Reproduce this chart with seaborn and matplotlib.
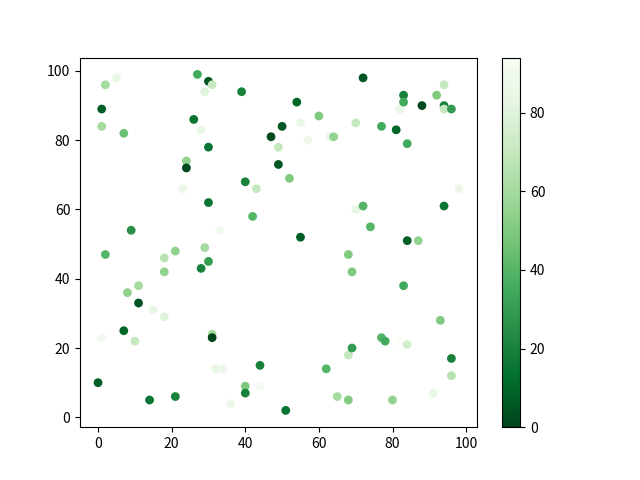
import matplotlib
matplotlib.use("Agg")
import matplotlib.pyplot as plt
import pandas as pd
import seaborn as sns

plt.rcParams['font.family'] = ['Noto Sans CJK SC', 'DejaVu Sans']

# points: x, y, colour value
x = [0, 1, 1, 1, 2, 2, 5, 7, 7, 8,
     9, 10, 11, 11, 14, 15, 18, 18, 18, 21,
     21, 23, 24, 24, 26, 27, 28, 28, 29, 29,
     30, 31, 30, 30, 30, 31, 31, 32, 33, 34,
     36, 39, 40, 40, 40, 42, 43, 44, 44, 47,
     49, 49, 50, 51, 52, 54, 55, 55, 57, 60,
     62, 63, 64, 65, 68, 68, 68, 69, 69, 70,
     70, 72, 72, 74, 77, 77, 78, 80, 81, 82,
     82, 83, 83, 83, 84, 84, 84, 87, 88, 91,
     92, 93, 94, 94, 94, 94, 96, 96, 96, 98]
y = [10, 89, 84, 23, 96, 47, 98, 82, 25, 36,
     54, 22, 38, 33, 5, 31, 46, 42, 29, 48,
     6, 66, 74, 72, 86, 99, 83, 43, 94, 49,
     97, 96, 78, 62, 45, 24, 23, 14, 54, 14,
     4, 94, 68, 9, 7, 58, 66, 15, 9, 81,
     78, 73, 84, 2, 69, 91, 85, 52, 80, 87,
     14, 81, 81, 6, 47, 18, 5, 42, 20, 85,
     60, 98, 61, 55, 84, 23, 22, 5, 83, 89,
     22, 93, 91, 38, 79, 51, 21, 51, 90, 7,
     93, 28, 96, 90, 89, 61, 89, 17, 12, 66]
c = [8, 8, 60, 90, 60, 40, 85, 45, 10, 55,
     25, 70, 60, 5, 15, 85, 65, 55, 80, 55,
     20, 88, 55, 2, 15, 35, 85, 20, 80, 60,
     5, 70, 15, 15, 30, 60, 0, 85, 90, 88,
     88, 20, 20, 50, 20, 40, 70, 20, 92, 2,
     70, 5, 5, 15, 50, 10, 85, 8, 88, 50,
     40, 85, 55, 60, 50, 70, 50, 50, 30, 70,
     85, 5, 40, 40, 35, 40, 35, 55, 10, 85,
     94, 20, 35, 35, 35, 8, 75, 55, 2, 85,
     50, 50, 70, 20, 70, 15, 30, 20, 65, 88]

df = pd.DataFrame({'x': x, 'y': y, 'c': c})

fig, ax = plt.subplots(figsize=(6.4, 4.8), dpi=100)
norm = plt.Normalize(min(c), max(c))
sns.scatterplot(data=df, x='x', y='y', hue='c', palette='Greens_r',
                hue_norm=norm, s=40, linewidth=0, legend=False, ax=ax)
ax.set(xlabel='', ylabel='')

sm = plt.cm.ScalarMappable(cmap='Greens_r', norm=norm)
fig.colorbar(sm, ax=ax)

plt.savefig('out.png')
